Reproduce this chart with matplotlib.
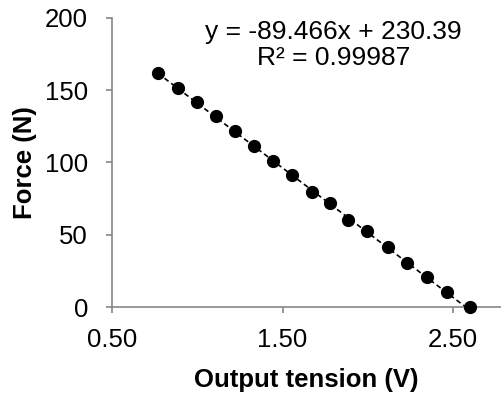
import numpy as np
import matplotlib.pyplot as plt

plt.rcParams['font.family'] = ['Liberation Sans', 'DejaVu Sans']

tension = [0.769, 0.884, 0.998, 1.110, 1.224, 1.334, 1.443, 1.553, 1.671,
           1.781, 1.882, 1.998, 2.116, 2.229, 2.345, 2.463, 2.598]
force = [161.8, 151.5, 141.8, 131.8, 121.4, 111.5, 101.2, 91.5, 79.9,
         71.9, 60.4, 52.3, 41.5, 30.4, 20.7, 10.4, 0.0]
slope = -89.466
intercept = 230.39
r2 = 0.99987
x_ticks = [0.5, 1.5, 2.5]
y_ticks = [0, 50, 100, 150, 200]

fig = plt.figure(figsize=(5.01, 4.01), dpi=100)
ax = fig.add_axes([0.2236, 0.234, 0.776, 0.722])

gray = '#868686'
xs = np.array([tension[0], tension[-1]])
ax.plot(xs, slope * xs + intercept, color='black', ls=(0, (3, 2)), lw=1.2, zorder=2)
ax.plot(tension, force, 'o', color='black', ms=8.5, zorder=3, clip_on=False)

ax.set_xlim(0.5, 2.78)
ax.set_ylim(0, 200)
ax.set_xticks(x_ticks)
ax.set_xticklabels(['%.2f' % t for t in x_ticks])
ax.set_yticks(y_ticks)

for s in ['top', 'right']:
    ax.spines[s].set_visible(False)
for s in ['left', 'bottom']:
    ax.spines[s].set_color(gray)
    ax.spines[s].set_linewidth(1.2)
ax.tick_params(colors=gray, width=1.2, length=4.3, labelcolor='black', labelsize=18.5)
ax.tick_params(axis='x', pad=11)
ax.tick_params(axis='y', pad=13)

ax.set_xlabel('Output tension (V)', fontsize=18.5, fontweight='bold', labelpad=11)
ax.set_ylabel('Force (N)', fontsize=18.5, fontweight='bold', labelpad=6)

ax.text(1.80, 181, 'y = %.3fx + %.2f\nR² = %.5f' % (slope, intercept, r2),
        ha='center', va='center', fontsize=19, linespacing=1.1)

fig.savefig('out.png', dpi=100)
